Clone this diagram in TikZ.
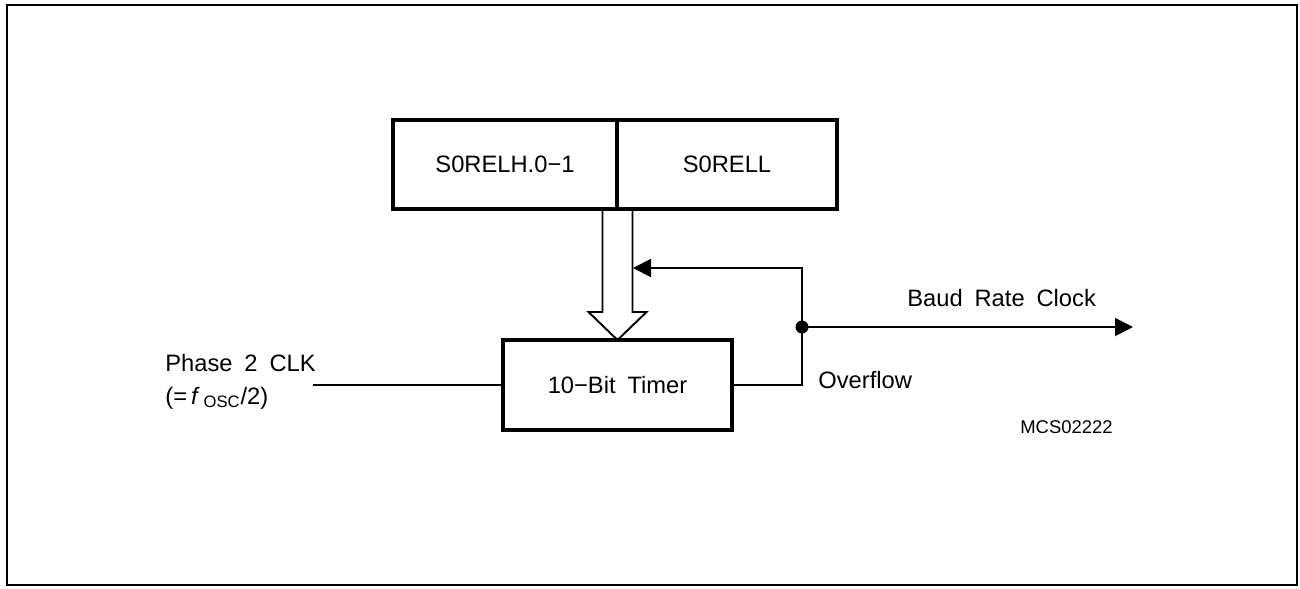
\documentclass[tikz,border=0pt]{standalone}
\usepackage{fontspec}
\setmainfont{Liberation Sans}[WordSpace=1.8]
\usepackage{tikz}
\usetikzlibrary{arrows.meta}
\usetikzlibrary{positioning}
\usetikzlibrary{calc}

\begin{document}
\begin{tikzpicture}[x=0.02cm, y=-0.02cm,
  font=\fontsize{13.5}{16}\selectfont,
  reg/.style={draw, line width=2.2pt, outer sep=0pt, inner sep=0pt, minimum height=1.78cm},
  lbl/.style={anchor=base west, inner sep=0pt},
  wire/.style={line width=1.1pt},
  tip/.style={-{Triangle[length=0.36cm,width=0.36cm]}}]
  \useasboundingbox (0,0) rectangle (1300,588);
  \draw [line width=1.6pt] (7,5) rectangle (1297,585);

  \node (relh) [reg, minimum width=4.48cm] at (505,164.5) {S0RELH.0−1};
  \node (rell) [reg, minimum width=4.4cm, right=0pt of relh] {S0RELL};
  \node (timer) [reg, minimum width=4.58cm, minimum height=1.8cm] at (617.5,385) {10−Bit Timer};

  \node (clk) [lbl] at (165,371) {Phase 2 CLK};
  \node (clkf) [lbl] at (165,404) {(=\,\textit{f}\,\textsubscript{OSC}/2)};
  \node (baud) [lbl] at (907,306) {Baud Rate Clock};
  \node (ovfl) [lbl] at (818,388) {Overflow};
  \node (mcs) [lbl, font=\fontsize{10.5}{12}\selectfont] at (1020,433) {MCS02222};

  \coordinate (clkin) at (313,385);
  \coordinate (fb) at (802,268);
  \coordinate (fbin) at (633,268);
  \coordinate (split) at (802,327);
  \coordinate (brc) at (1133,327);

  % hollow bus arrow
  \draw [wire] ($(timer.north)+(-15,-131)$) -- ($(timer.north)+(-15,-28)$) -- ($(timer.north)+(-29,-28)$)
    -- (timer.north) -- ($(timer.north)+(29,-28)$) -- ($(timer.north)+(15,-28)$) -- ($(timer.north)+(15,-131)$);

  \draw [wire] (clkin) -- (timer.west);
  \draw [wire, tip] (timer.east) -| (fb) -- (fbin);
  \draw [wire, tip] (split) -- (brc);
  \fill (split) circle (0.13cm);
\end{tikzpicture}
\end{document}
